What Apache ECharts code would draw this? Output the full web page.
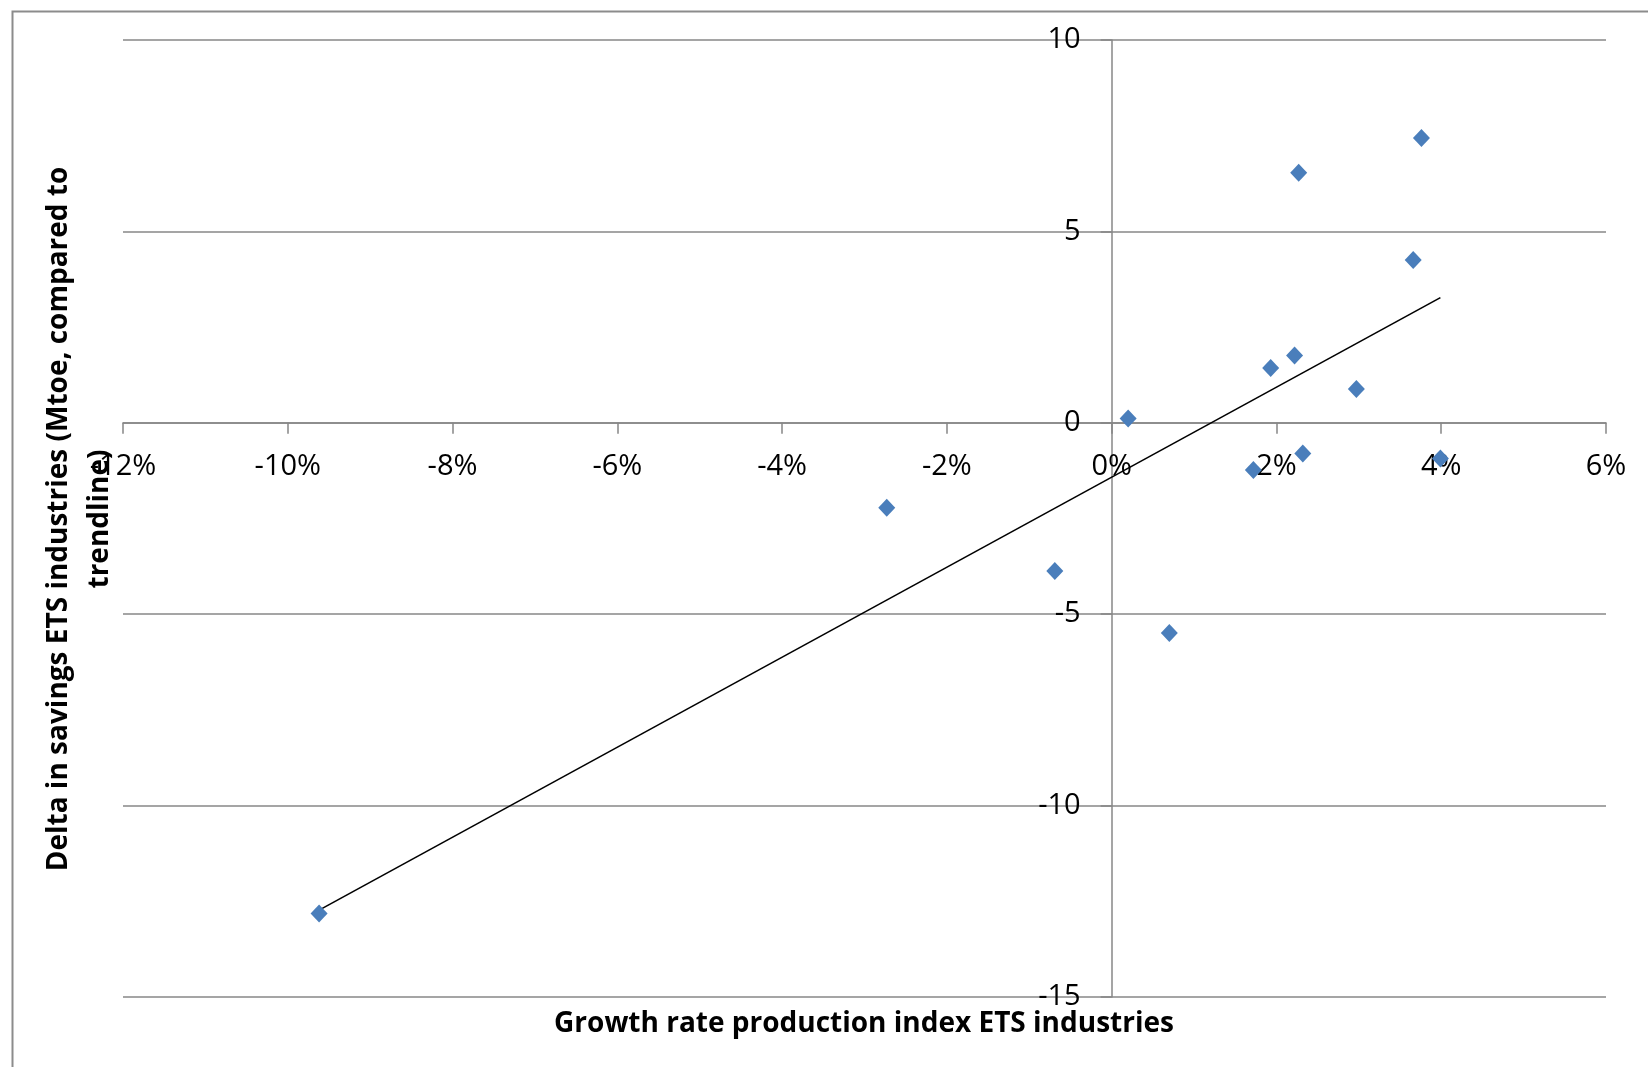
<!DOCTYPE html>
<html>
<head>
<meta charset="utf-8">
<script src="https://cdn.jsdelivr.net/npm/echarts@6/dist/echarts.min.js"></script>
<style>
html,body{margin:0;padding:0;background:#fff;}
#chart{width:1648px;height:1067px;}
</style>
</head>
<body>
<div id="chart"></div>
<script>
// Growth rate production index (%), x values
var growthRate = [-9.62, -2.73, -0.69, 0.20, 0.70, 1.72, 1.93, 2.22, 2.27, 2.32, 2.97, 3.66, 3.76, 3.99];
// Delta in savings (Mtoe), y values
var deltaSavings = [-12.82, -2.22, -3.87, 0.11, -5.49, -1.23, 1.43, 1.76, 6.53, -0.80, 0.88, 4.25, 7.44, -0.93];

var xAxisTitle = 'Growth rate production index ETS industries';
var yAxisTitle = 'Delta in savings ETS industries (Mtoe, compared to\ntrendline)';

// scatter points
var points = growthRate.map(function (x, i) { return [x, deltaSavings[i]]; });

// linear trendline (least squares) over data range
var n = growthRate.length, mx = 0, my = 0;
for (var i = 0; i < n; i++) { mx += growthRate[i]; my += deltaSavings[i]; }
mx /= n; my /= n;
var sxy = 0, sxx = 0;
for (var i = 0; i < n; i++) { sxy += (growthRate[i]-mx)*(deltaSavings[i]-my); sxx += (growthRate[i]-mx)*(growthRate[i]-mx); }
var slope = sxy / sxx, intercept = my - slope * mx;
var xmin = Math.min.apply(null, growthRate), xmax = Math.max.apply(null, growthRate);
var trend = [[xmin, slope*xmin + intercept], [xmax, slope*xmax + intercept]];

var labelFont = '"Open Sans", sans-serif';
var gray = '#878787';
var gridL = 123, gridR = 42, gridT = 40, gridB = 70;

var chart = echarts.init(document.getElementById('chart'));
chart.setOption({
  animation: false,
  backgroundColor: '#fff',
  grid: { left: gridL, right: gridR, top: gridT, bottom: gridB, containLabel: false },
  xAxis: {
    type: 'value', min: -12, max: 6, interval: 2, position: 'bottom', offset: 0,
    axisLine: { show: true, onZero: false, lineStyle: { color: gray, width: 1.5 } },
    axisTick: { show: true, length: 11, lineStyle: { color: gray, width: 1.5 } },
    axisLabel: { formatter: '{value}%', color: '#000', fontSize: 29, fontFamily: labelFont, margin: 29 },
    splitLine: { show: false }
  },
  yAxis: {
    type: 'value', min: -15, max: 10, interval: 5, position: 'left', offset: 0,
    axisLine: { show: true, onZero: false, lineStyle: { color: gray, width: 1.5 } },
    axisTick: { show: true, length: 11, lineStyle: { color: gray, width: 1.5 } },
    axisLabel: { color: '#000', fontSize: 29, fontFamily: labelFont, margin: 31 },
    splitLine: { show: true, lineStyle: { color: gray, width: 1.5 } }
  },
  series: [
    {
      type: 'line', data: trend, showSymbol: false, symbol: 'none',
      lineStyle: { color: '#000', width: 1.6 }, z: 3, silent: true
    },
    {
      type: 'scatter', data: points, symbol: 'diamond', symbolSize: [17, 18],
      itemStyle: { color: '#4A7EBB', opacity: 1 }, z: 4
    }
  ],
  graphic: [
    {
      type: 'rect', left: 10, top: 9, z: -10,
      shape: { width: 1700, height: 1100 },
      style: { fill: 'none', stroke: '#8c8c8c', lineWidth: 2 }
    },
    {
      type: 'text', x: 864, y: 1024,
      style: { text: xAxisTitle, font: 'bold 28px ' + labelFont, fill: '#000', textAlign: 'center', textVerticalAlign: 'middle' }
    },
    {
      type: 'text', x: 80, y: 519, rotation: Math.PI / 2,
      style: { text: yAxisTitle, font: 'bold 28px ' + labelFont, fill: '#000', textAlign: 'center', textVerticalAlign: 'middle', lineHeight: 41 }
    }
  ]
});

// move both axes (line, ticks, labels) to cross at the origin, as in the reference
var origin = chart.convertToPixel({ gridIndex: 0 }, [0, 0]);
var H = chart.getHeight();
chart.setOption({
  xAxis: { offset: -((H - gridB) - origin[1]) },
  yAxis: { offset: -(origin[0] - gridL) }
});
</script>
</body>
</html>
